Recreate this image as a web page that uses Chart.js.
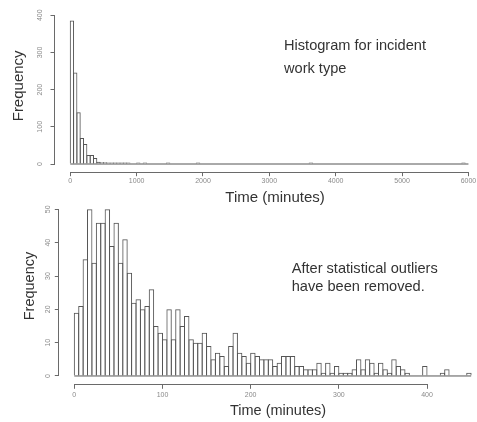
<!DOCTYPE html>
<html>
<head>
<meta charset="utf-8">
<script src="https://cdn.jsdelivr.net/npm/chart.js@4"></script>
<style>
  html, body { margin: 0; padding: 0; background: #fff; overflow: hidden; width: 477px; height: 422px; }
  canvas { position: absolute; left: 0; }
  #allChart { top: 0; }
  #trimChart { top: 170px; }
</style>
</head>
<body>
<canvas id="allChart" width="500" height="210"></canvas>
<canvas id="trimChart" width="500" height="252"></canvas>
<script>
// All incident jobs, 50 minute bins from 0 to 6000
const allBinWidth = 50;
const allCounts = [
  386, 246, 139, 70, 54, 24, 24, 16, 6, 5, 5, 3, 3, 4, 3, 2, 2, 1, 0, 0,
  2, 0, 2, 0, 0, 0, 0, 0, 0, 1, 0, 0, 0, 0, 0, 0, 0, 0, 1, 0,
  0, 0, 0, 0, 0, 0, 0, 0, 0, 0, 0, 0, 0, 0, 0, 0, 0, 0, 0, 0,
  0, 0, 0, 0, 0, 0, 0, 0, 0, 0, 0, 0, 1, 0, 0, 0, 0, 0, 0, 0,
  0, 0, 0, 0, 0, 0, 0, 0, 0, 0, 0, 0, 0, 0, 0, 0, 0, 0, 0, 0,
  0, 0, 0, 0, 0, 0, 0, 0, 0, 0, 0, 0, 0, 0, 0, 0, 0, 0, 1, 0
];
const allTimeTicks = [0, 1000, 2000, 3000, 4000, 5000, 6000];
const allFreqTicks = [0, 100, 200, 300, 400];

// Outliers removed, 5 minute bins from 0 to 450
const trimBinWidth = 5;
const trimCounts = [
  19, 21, 35, 50, 34, 46, 46, 50, 39, 46,
  34, 41, 31, 22, 23, 20, 21, 26, 15, 13,
  11, 20, 11, 20, 15, 18, 11, 10, 10, 13,
  9, 5, 7, 6, 3, 9, 13, 7, 6, 4,
  7, 6, 5, 5, 5, 3, 4, 6, 6, 6,
  3, 3, 2, 2, 2, 4, 1, 4, 1, 3,
  1, 1, 1, 2, 5, 2, 5, 4, 1, 4,
  2, 1, 5, 3, 2, 1, 0, 0, 0, 3,
  0, 0, 0, 1, 2, 0, 0, 0, 0, 1
];
const trimTimeTicks = [0, 100, 200, 300, 400];
const trimFreqTicks = [0, 10, 20, 30, 40, 50];

const ink = '#555';
const textInk = '#333';
const family = "'Liberation Sans', Arial, sans-serif";

// R style axis lines, only as long as the tick range
const rAxes = {
  id: 'rAxes',
  afterDraw(chart) {
    const { ctx, chartArea, scales: { x, y } } = chart;
    const xt = x.ticks, yt = y.ticks;
    ctx.save();
    ctx.strokeStyle = '#6a6a6a';
    ctx.lineWidth = 1;
    ctx.beginPath();
    const by = Math.round(chartArea.bottom) + 0.5;
    ctx.moveTo(x.getPixelForValue(xt[0].value), by);
    ctx.lineTo(x.getPixelForValue(xt[xt.length - 1].value), by);
    const lx = Math.round(chartArea.left) - 0.5;
    ctx.moveTo(lx, y.getPixelForValue(yt[0].value));
    ctx.lineTo(lx, y.getPixelForValue(yt[yt.length - 1].value));
    ctx.stroke();
    ctx.restore();
  }
};

// the free text note inside the plot
const note = {
  id: 'note',
  afterDraw(chart, args, opts) {
    const ctx = chart.ctx;
    ctx.save();
    ctx.font = opts.font;
    ctx.fillStyle = textInk;
    opts.lines.forEach(l => ctx.fillText(l.text, l.x, l.y));
    ctx.restore();
  }
};

const makeHist = (id, c) => {
  const bars = c.counts.map((v, i) => ({ x: (i + 0.5) * c.binWidth, y: v === 0 ? null : v }));
  const end = c.counts.length * c.binWidth;
  new Chart(document.getElementById(id), {
    type: 'bar',
    data: {
      datasets: [{
        data: bars,
        backgroundColor: 'rgba(0,0,0,0)',
        borderColor: ink,
        borderWidth: 1,
        borderSkipped: 'bottom',
        barPercentage: c.overlap,
        categoryPercentage: 1,
        minBarLength: 1.5,
        order: 1
      }, {
        // zero height bins still show as a line along the base
        type: 'line',
        data: [{ x: 0, y: 0 }, { x: end, y: 0 }],
        borderColor: ink,
        borderWidth: 1,
        pointRadius: 0,
        order: 2
      }]
    },
    options: {
      responsive: false,
      animation: false,
      events: [],
      layout: { padding: { left: 0, top: c.padTop, right: c.padRight, bottom: 0 } },
      plugins: {
        legend: { display: false },
        tooltip: { enabled: false },
        note: { font: c.noteFont, lines: c.note }
      },
      scales: {
        x: {
          type: 'linear',
          bounds: 'data',
          offset: false,
          min: c.xMin,
          max: c.xMax,
          afterBuildTicks: s => { s.ticks = c.timeTicks.map(v => ({ value: v })); },
          afterFit: s => { s.height = c.xHeight; s.paddingLeft = 0; s.paddingRight = 0; },
          border: { display: false },
          grid: { offset: false, drawOnChartArea: false, drawTicks: true, tickLength: 4.5, color: '#6a6a6a' },
          ticks: {
            autoSkip: false, maxRotation: 0, padding: c.xTickPad,
            callback: v => String(v),
            color: '#8a8a8a', font: { family: family, size: 7 }
          },
          title: {
            display: true, text: 'Time (minutes)', color: textInk,
            font: { family: family, size: c.titleSize },
            padding: { top: 0, bottom: c.xTitlePad }
          }
        },
        y: {
          type: 'linear',
          bounds: 'data',
          min: c.yMin,
          max: c.yMax,
          afterBuildTicks: s => { s.ticks = c.freqTicks.map(v => ({ value: v })); },
          afterFit: s => { s.width = c.yWidth; s.paddingTop = 0; s.paddingBottom = 0; },
          border: { display: false },
          grid: { offset: false, drawOnChartArea: false, drawTicks: true, tickLength: 4.5, color: '#6a6a6a' },
          ticks: {
            autoSkip: false, minRotation: 90, maxRotation: 90, crossAlign: 'center',
            callback: v => String(v),
            padding: c.yTickPad, color: '#8a8a8a', font: { family: family, size: 7 }
          },
          title: {
            display: true, text: 'Frequency', color: textInk,
            font: { family: family, size: c.titleSize },
            padding: { top: c.yTitlePad, bottom: 0 }
          }
        }
      }
    },
    plugins: [rAxes, note]
  });
};

makeHist('allChart', {
  counts: allCounts, binWidth: allBinWidth, timeTicks: allTimeTicks, freqTicks: allFreqTicks,
  xMin: -230, xMax: 6400, yMin: -20.7, yMax: 441,
  padTop: 0, padRight: 5, xHeight: 38.3, yWidth: 55, overlap: 1.3,
  xTickPad: 0.5, yTickPad: 4.6, xTitlePad: 3.3, yTitlePad: 9.8, titleSize: 15,
  noteFont: '14.6px ' + family,
  note: [
    { text: 'Histogram for incident', x: 284, y: 50 },
    { text: 'work type', x: 284, y: 73 }
  ]
});

makeHist('trimChart', {
  counts: trimCounts, binWidth: trimBinWidth, timeTicks: trimTimeTicks, freqTicks: trimFreqTicks,
  xMin: -17, xMax: 479, yMin: -2.5, yMax: 56.5,
  padTop: 17.7, padRight: 3.3, xHeight: 37.7, yWidth: 59.3, overlap: 1.227,
  xTickPad: 1.7, yTickPad: 2.9, xTitlePad: 2.8, yTitlePad: 20.8, titleSize: 14.5,
  noteFont: '14.6px ' + family,
  note: [
    { text: 'After statistical outliers', x: 291.7, y: 102.5 },
    { text: 'have been removed.', x: 291.7, y: 121 }
  ]
});
</script>
</body>
</html>
